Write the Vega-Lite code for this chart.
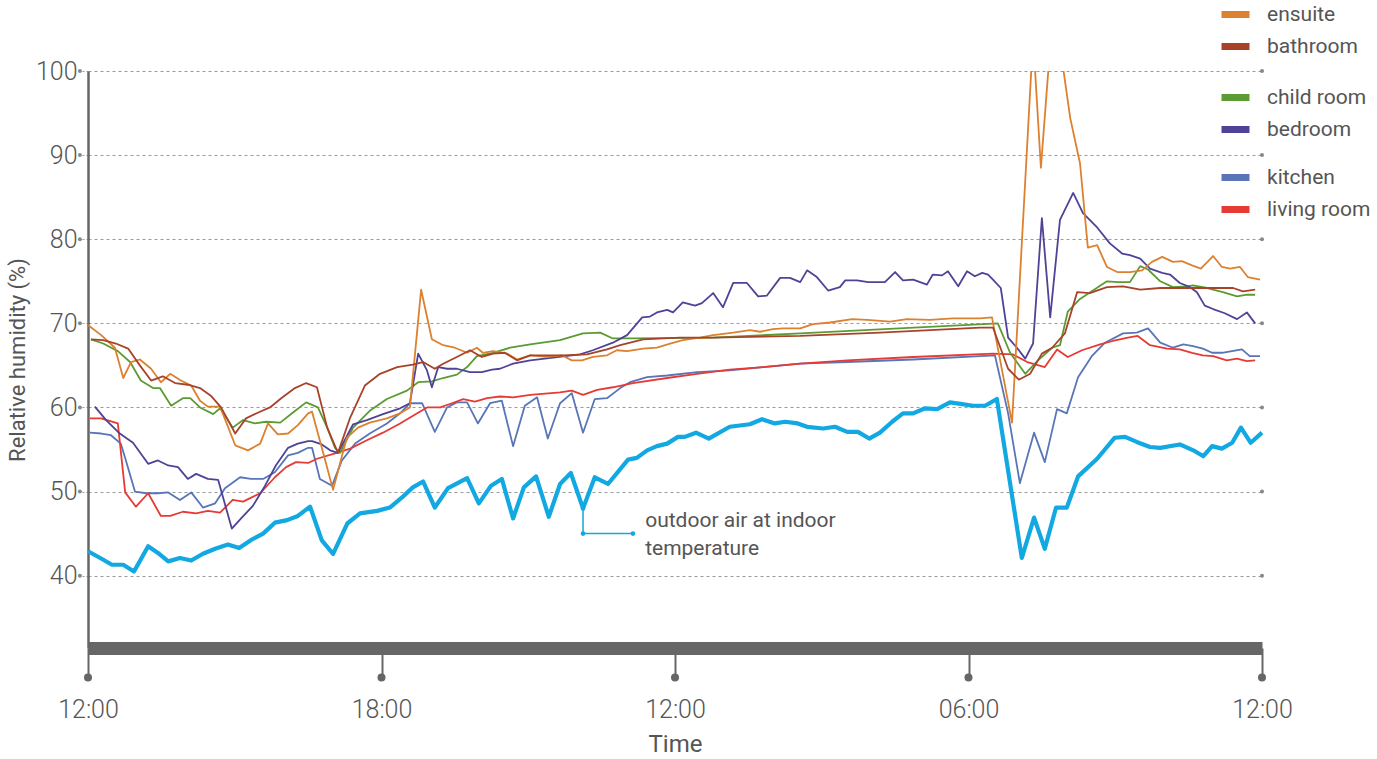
{
  "$schema": "https://vega.github.io/schema/vega-lite/v6.json",
  "width": 1174,
  "height": 577,
  "autosize": {"type": "none"},
  "padding": {"left": 88, "top": 71, "right": 115, "bottom": 111},
  "background": "white",
  "config": {"view": {"stroke": null}, "font": "Roboto"},
  "datasets": {
    "readings": [
      {"room":"ensuite","hour":0,"rh":69.8},{"room":"ensuite","hour":0.27,"rh":68.6},{"room":"ensuite","hour":0.55,"rh":67.1},{"room":"ensuite","hour":0.72,"rh":63.5},{"room":"ensuite","hour":0.88,"rh":65.4},{"room":"ensuite","hour":1.06,"rh":65.7},{"room":"ensuite","hour":1.29,"rh":64.6},{"room":"ensuite","hour":1.49,"rh":63.0},{"room":"ensuite","hour":1.68,"rh":64.0},{"room":"ensuite","hour":1.90,"rh":63.2},{"room":"ensuite","hour":2.11,"rh":62.6},{"room":"ensuite","hour":2.29,"rh":60.8},{"room":"ensuite","hour":2.45,"rh":60.1},{"room":"ensuite","hour":2.70,"rh":60.1},{"room":"ensuite","hour":3.01,"rh":55.5},{"room":"ensuite","hour":3.27,"rh":54.9},{"room":"ensuite","hour":3.52,"rh":55.7},{"room":"ensuite","hour":3.68,"rh":58.1},{"room":"ensuite","hour":3.88,"rh":56.8},{"room":"ensuite","hour":4.09,"rh":56.9},{"room":"ensuite","hour":4.29,"rh":57.9},{"room":"ensuite","hour":4.50,"rh":59.3},{"room":"ensuite","hour":4.58,"rh":59.5},{"room":"ensuite","hour":4.78,"rh":55.2},{"room":"ensuite","hour":5.01,"rh":50.2},{"room":"ensuite","hour":5.29,"rh":56.4},{"room":"ensuite","hour":5.52,"rh":57.6},{"room":"ensuite","hour":5.76,"rh":58.2},{"room":"ensuite","hour":6.11,"rh":58.7},{"room":"ensuite","hour":6.38,"rh":59.3},{"room":"ensuite","hour":6.58,"rh":60.0},{"room":"ensuite","hour":6.81,"rh":74.0},{"room":"ensuite","hour":7.03,"rh":68.1},{"room":"ensuite","hour":7.26,"rh":67.4},{"room":"ensuite","hour":7.50,"rh":67.1},{"room":"ensuite","hour":7.75,"rh":66.5},{"room":"ensuite","hour":7.95,"rh":67.1},{"room":"ensuite","hour":8.07,"rh":66.5},{"room":"ensuite","hour":8.28,"rh":66.7},{"room":"ensuite","hour":8.57,"rh":66.4},{"room":"ensuite","hour":8.77,"rh":65.7},{"room":"ensuite","hour":9.04,"rh":66.2},{"room":"ensuite","hour":9.38,"rh":66.0},{"room":"ensuite","hour":9.69,"rh":66.2},{"room":"ensuite","hour":9.89,"rh":65.6},{"room":"ensuite","hour":10.10,"rh":65.6},{"room":"ensuite","hour":10.32,"rh":66.0},{"room":"ensuite","hour":10.61,"rh":66.2},{"room":"ensuite","hour":10.81,"rh":66.8},{"room":"ensuite","hour":11.02,"rh":66.7},{"room":"ensuite","hour":11.35,"rh":67.0},{"room":"ensuite","hour":11.63,"rh":67.1},{"room":"ensuite","hour":11.90,"rh":67.6},{"room":"ensuite","hour":12.16,"rh":68.0},{"room":"ensuite","hour":12.51,"rh":68.3},{"room":"ensuite","hour":12.78,"rh":68.6},{"room":"ensuite","hour":13.19,"rh":68.9},{"room":"ensuite","hour":13.53,"rh":69.2},{"room":"ensuite","hour":13.74,"rh":69.0},{"room":"ensuite","hour":14.00,"rh":69.3},{"room":"ensuite","hour":14.21,"rh":69.4},{"room":"ensuite","hour":14.56,"rh":69.4},{"room":"ensuite","hour":14.82,"rh":69.9},{"room":"ensuite","hour":15.17,"rh":70.1},{"room":"ensuite","hour":15.62,"rh":70.5},{"room":"ensuite","hour":15.93,"rh":70.4},{"room":"ensuite","hour":16.40,"rh":70.2},{"room":"ensuite","hour":16.74,"rh":70.5},{"room":"ensuite","hour":17.21,"rh":70.4},{"room":"ensuite","hour":17.68,"rh":70.6},{"room":"ensuite","hour":18.24,"rh":70.6},{"room":"ensuite","hour":18.48,"rh":70.7},{"room":"ensuite","hour":18.89,"rh":58.2},{"room":"ensuite","hour":19.32,"rh":104.0},{"room":"ensuite","hour":19.48,"rh":88.5},{"room":"ensuite","hour":19.67,"rh":103.0},{"room":"ensuite","hour":19.87,"rh":103.0},{"room":"ensuite","hour":20.08,"rh":94.4},{"room":"ensuite","hour":20.28,"rh":89.0},{"room":"ensuite","hour":20.44,"rh":79.0},{"room":"ensuite","hour":20.63,"rh":79.3},{"room":"ensuite","hour":20.83,"rh":76.7},{"room":"ensuite","hour":21.04,"rh":76.1},{"room":"ensuite","hour":21.30,"rh":76.1},{"room":"ensuite","hour":21.55,"rh":76.3},{"room":"ensuite","hour":21.75,"rh":77.3},{"room":"ensuite","hour":21.96,"rh":77.9},{"room":"ensuite","hour":22.18,"rh":77.3},{"room":"ensuite","hour":22.36,"rh":77.4},{"room":"ensuite","hour":22.57,"rh":76.9},{"room":"ensuite","hour":22.75,"rh":76.5},{"room":"ensuite","hour":23.00,"rh":78.0},{"room":"ensuite","hour":23.18,"rh":76.7},{"room":"ensuite","hour":23.35,"rh":76.5},{"room":"ensuite","hour":23.55,"rh":76.7},{"room":"ensuite","hour":23.71,"rh":75.5},{"room":"ensuite","hour":23.96,"rh":75.2},

      {"room":"bathroom","hour":0.06,"rh":68.1},{"room":"bathroom","hour":0.31,"rh":68.0},{"room":"bathroom","hour":0.57,"rh":67.6},{"room":"bathroom","hour":0.82,"rh":67.0},{"room":"bathroom","hour":1.06,"rh":65.0},{"room":"bathroom","hour":1.29,"rh":63.2},{"room":"bathroom","hour":1.53,"rh":63.7},{"room":"bathroom","hour":1.78,"rh":62.9},{"room":"bathroom","hour":2.04,"rh":62.7},{"room":"bathroom","hour":2.29,"rh":62.3},{"room":"bathroom","hour":2.51,"rh":61.4},{"room":"bathroom","hour":2.72,"rh":60.0},{"room":"bathroom","hour":3.01,"rh":56.9},{"room":"bathroom","hour":3.23,"rh":58.7},{"room":"bathroom","hour":3.48,"rh":59.4},{"room":"bathroom","hour":3.72,"rh":60.0},{"room":"bathroom","hour":3.95,"rh":61.1},{"room":"bathroom","hour":4.23,"rh":62.3},{"room":"bathroom","hour":4.46,"rh":62.9},{"room":"bathroom","hour":4.68,"rh":62.4},{"room":"bathroom","hour":4.89,"rh":57.6},{"room":"bathroom","hour":5.11,"rh":54.6},{"room":"bathroom","hour":5.36,"rh":58.8},{"room":"bathroom","hour":5.66,"rh":62.6},{"room":"bathroom","hour":5.97,"rh":64.0},{"room":"bathroom","hour":6.32,"rh":64.8},{"room":"bathroom","hour":6.64,"rh":65.1},{"room":"bathroom","hour":6.85,"rh":65.4},{"room":"bathroom","hour":7.09,"rh":64.6},{"room":"bathroom","hour":7.26,"rh":65.2},{"room":"bathroom","hour":7.54,"rh":66.0},{"room":"bathroom","hour":7.81,"rh":66.8},{"room":"bathroom","hour":8.05,"rh":66.0},{"room":"bathroom","hour":8.28,"rh":66.4},{"room":"bathroom","hour":8.52,"rh":66.5},{"room":"bathroom","hour":8.77,"rh":65.6},{"room":"bathroom","hour":9.04,"rh":66.2},{"room":"bathroom","hour":9.71,"rh":66.2},{"room":"bathroom","hour":10.20,"rh":66.3},{"room":"bathroom","hour":10.61,"rh":66.9},{"room":"bathroom","hour":10.88,"rh":67.4},{"room":"bathroom","hour":11.35,"rh":68.1},{"room":"bathroom","hour":12.10,"rh":68.3},{"room":"bathroom","hour":12.78,"rh":68.3},{"room":"bathroom","hour":14.56,"rh":68.5},{"room":"bathroom","hour":16.19,"rh":68.9},{"room":"bathroom","hour":18.24,"rh":69.5},{"room":"bathroom","hour":18.50,"rh":69.5},{"room":"bathroom","hour":18.81,"rh":64.6},{"room":"bathroom","hour":19.03,"rh":63.3},{"room":"bathroom","hour":19.26,"rh":64.0},{"room":"bathroom","hour":19.50,"rh":66.4},{"room":"bathroom","hour":19.71,"rh":67.1},{"room":"bathroom","hour":19.97,"rh":68.8},{"room":"bathroom","hour":20.22,"rh":73.7},{"room":"bathroom","hour":20.48,"rh":73.6},{"room":"bathroom","hour":20.83,"rh":74.3},{"room":"bathroom","hour":21.16,"rh":74.4},{"room":"bathroom","hour":21.51,"rh":74.0},{"room":"bathroom","hour":21.92,"rh":74.2},{"room":"bathroom","hour":22.59,"rh":74.2},{"room":"bathroom","hour":23.00,"rh":74.2},{"room":"bathroom","hour":23.41,"rh":74.2},{"room":"bathroom","hour":23.61,"rh":73.8},{"room":"bathroom","hour":23.86,"rh":74.0},

      {"room":"child room","hour":0.06,"rh":68.1},{"room":"child room","hour":0.31,"rh":67.6},{"room":"child room","hour":0.61,"rh":66.7},{"room":"child room","hour":0.86,"rh":65.4},{"room":"child room","hour":1.08,"rh":63.2},{"room":"child room","hour":1.33,"rh":62.3},{"room":"child room","hour":1.47,"rh":62.3},{"room":"child room","hour":1.70,"rh":60.2},{"room":"child room","hour":1.94,"rh":61.1},{"room":"child room","hour":2.09,"rh":61.1},{"room":"child room","hour":2.29,"rh":60.0},{"room":"child room","hour":2.56,"rh":59.2},{"room":"child room","hour":2.70,"rh":59.9},{"room":"child room","hour":2.96,"rh":57.6},{"room":"child room","hour":3.17,"rh":58.5},{"room":"child room","hour":3.41,"rh":58.1},{"room":"child room","hour":3.64,"rh":58.3},{"room":"child room","hour":3.93,"rh":58.2},{"room":"child room","hour":4.19,"rh":59.4},{"room":"child room","hour":4.46,"rh":60.6},{"room":"child room","hour":4.70,"rh":60.0},{"room":"child room","hour":4.89,"rh":57.6},{"room":"child room","hour":5.05,"rh":55.2},{"room":"child room","hour":5.15,"rh":54.6},{"room":"child room","hour":5.42,"rh":57.6},{"room":"child room","hour":5.76,"rh":59.6},{"room":"child room","hour":6.11,"rh":61.0},{"room":"child room","hour":6.52,"rh":62.0},{"room":"child room","hour":6.75,"rh":63.0},{"room":"child room","hour":7.03,"rh":63.1},{"room":"child room","hour":7.26,"rh":63.5},{"room":"child room","hour":7.54,"rh":63.9},{"room":"child room","hour":7.75,"rh":64.8},{"room":"child room","hour":7.95,"rh":66.1},{"room":"child room","hour":8.28,"rh":66.5},{"room":"child room","hour":8.63,"rh":67.1},{"room":"child room","hour":9.04,"rh":67.5},{"room":"child room","hour":9.65,"rh":68.0},{"room":"child room","hour":10.12,"rh":68.8},{"room":"child room","hour":10.47,"rh":68.9},{"room":"child room","hour":10.73,"rh":68.2},{"room":"child room","hour":11.14,"rh":68.2},{"room":"child room","hour":12.78,"rh":68.3},{"room":"child room","hour":14.56,"rh":68.8},{"room":"child room","hour":18.60,"rh":70.0},{"room":"child room","hour":18.85,"rh":66.5},{"room":"child room","hour":19.16,"rh":64.0},{"room":"child room","hour":19.42,"rh":65.6},{"room":"child room","hour":19.71,"rh":67.1},{"room":"child room","hour":19.87,"rh":67.4},{"room":"child room","hour":20.03,"rh":71.4},{"room":"child room","hour":20.28,"rh":72.9},{"room":"child room","hour":20.83,"rh":75.0},{"room":"child room","hour":21.06,"rh":74.9},{"room":"child room","hour":21.30,"rh":74.9},{"room":"child room","hour":21.51,"rh":76.8},{"room":"child room","hour":21.67,"rh":76.4},{"room":"child room","hour":21.92,"rh":75.0},{"room":"child room","hour":22.18,"rh":74.3},{"room":"child room","hour":22.47,"rh":74.4},{"room":"child room","hour":22.59,"rh":74.5},{"room":"child room","hour":22.88,"rh":74.2},{"room":"child room","hour":23.20,"rh":73.7},{"room":"child room","hour":23.49,"rh":73.2},{"room":"child room","hour":23.69,"rh":73.4},{"room":"child room","hour":23.86,"rh":73.4},

      {"room":"bedroom","hour":0.14,"rh":60.1},{"room":"bedroom","hour":0.37,"rh":58.5},{"room":"bedroom","hour":0.65,"rh":56.9},{"room":"bedroom","hour":0.92,"rh":55.8},{"room":"bedroom","hour":1.23,"rh":53.3},{"room":"bedroom","hour":1.43,"rh":53.7},{"room":"bedroom","hour":1.64,"rh":53.1},{"room":"bedroom","hour":1.84,"rh":52.9},{"room":"bedroom","hour":2.04,"rh":51.5},{"room":"bedroom","hour":2.21,"rh":52.1},{"room":"bedroom","hour":2.45,"rh":51.5},{"room":"bedroom","hour":2.66,"rh":51.4},{"room":"bedroom","hour":2.94,"rh":45.6},{"room":"bedroom","hour":3.13,"rh":46.8},{"room":"bedroom","hour":3.37,"rh":48.3},{"room":"bedroom","hour":3.62,"rh":50.7},{"room":"bedroom","hour":3.84,"rh":53.1},{"room":"bedroom","hour":4.09,"rh":55.2},{"room":"bedroom","hour":4.29,"rh":55.7},{"room":"bedroom","hour":4.50,"rh":56.0},{"room":"bedroom","hour":4.58,"rh":56.0},{"room":"bedroom","hour":4.78,"rh":55.6},{"room":"bedroom","hour":4.95,"rh":54.9},{"room":"bedroom","hour":5.11,"rh":54.6},{"room":"bedroom","hour":5.42,"rh":58.0},{"room":"bedroom","hour":5.70,"rh":58.5},{"room":"bedroom","hour":6.03,"rh":59.2},{"room":"bedroom","hour":6.38,"rh":59.9},{"room":"bedroom","hour":6.58,"rh":60.5},{"room":"bedroom","hour":6.75,"rh":66.4},{"room":"bedroom","hour":6.93,"rh":64.4},{"room":"bedroom","hour":7.03,"rh":62.4},{"room":"bedroom","hour":7.16,"rh":64.8},{"room":"bedroom","hour":7.34,"rh":64.6},{"room":"bedroom","hour":7.54,"rh":64.6},{"room":"bedroom","hour":7.81,"rh":64.2},{"room":"bedroom","hour":8.05,"rh":64.2},{"room":"bedroom","hour":8.26,"rh":64.5},{"room":"bedroom","hour":8.42,"rh":64.6},{"room":"bedroom","hour":8.69,"rh":65.2},{"room":"bedroom","hour":9.04,"rh":65.6},{"room":"bedroom","hour":10.06,"rh":66.3},{"room":"bedroom","hour":10.32,"rh":66.8},{"room":"bedroom","hour":10.73,"rh":67.7},{"room":"bedroom","hour":11.02,"rh":68.6},{"room":"bedroom","hour":11.33,"rh":70.7},{"room":"bedroom","hour":11.49,"rh":70.8},{"room":"bedroom","hour":11.63,"rh":71.3},{"room":"bedroom","hour":11.84,"rh":71.6},{"room":"bedroom","hour":11.96,"rh":71.3},{"room":"bedroom","hour":12.16,"rh":72.5},{"room":"bedroom","hour":12.41,"rh":72.1},{"room":"bedroom","hour":12.55,"rh":72.4},{"room":"bedroom","hour":12.78,"rh":73.6},{"room":"bedroom","hour":12.98,"rh":71.9},{"room":"bedroom","hour":13.19,"rh":74.8},{"room":"bedroom","hour":13.47,"rh":74.8},{"room":"bedroom","hour":13.70,"rh":73.2},{"room":"bedroom","hour":13.88,"rh":73.3},{"room":"bedroom","hour":14.15,"rh":75.4},{"room":"bedroom","hour":14.35,"rh":75.4},{"room":"bedroom","hour":14.56,"rh":74.9},{"room":"bedroom","hour":14.70,"rh":76.3},{"room":"bedroom","hour":14.90,"rh":75.5},{"room":"bedroom","hour":15.13,"rh":73.9},{"room":"bedroom","hour":15.37,"rh":74.3},{"room":"bedroom","hour":15.48,"rh":75.1},{"room":"bedroom","hour":15.72,"rh":75.1},{"room":"bedroom","hour":15.95,"rh":74.9},{"room":"bedroom","hour":16.29,"rh":74.9},{"room":"bedroom","hour":16.50,"rh":76.1},{"room":"bedroom","hour":16.66,"rh":75.1},{"room":"bedroom","hour":16.87,"rh":75.2},{"room":"bedroom","hour":17.15,"rh":74.6},{"room":"bedroom","hour":17.27,"rh":75.8},{"room":"bedroom","hour":17.46,"rh":75.7},{"room":"bedroom","hour":17.58,"rh":76.2},{"room":"bedroom","hour":17.79,"rh":74.4},{"room":"bedroom","hour":17.97,"rh":76.2},{"room":"bedroom","hour":18.13,"rh":75.6},{"room":"bedroom","hour":18.28,"rh":76.0},{"room":"bedroom","hour":18.40,"rh":75.8},{"room":"bedroom","hour":18.50,"rh":75.2},{"room":"bedroom","hour":18.66,"rh":74.2},{"room":"bedroom","hour":18.81,"rh":68.3},{"room":"bedroom","hour":18.99,"rh":67.1},{"room":"bedroom","hour":19.16,"rh":65.8},{"room":"bedroom","hour":19.32,"rh":67.6},{"room":"bedroom","hour":19.50,"rh":82.5},{"room":"bedroom","hour":19.67,"rh":70.7},{"room":"bedroom","hour":19.87,"rh":82.3},{"room":"bedroom","hour":20.14,"rh":85.5},{"room":"bedroom","hour":20.34,"rh":83.1},{"room":"bedroom","hour":20.63,"rh":81.4},{"room":"bedroom","hour":20.89,"rh":79.5},{"room":"bedroom","hour":21.14,"rh":78.3},{"room":"bedroom","hour":21.30,"rh":78.1},{"room":"bedroom","hour":21.51,"rh":77.7},{"room":"bedroom","hour":21.71,"rh":76.5},{"room":"bedroom","hour":21.96,"rh":76.0},{"room":"bedroom","hour":22.12,"rh":75.8},{"room":"bedroom","hour":22.32,"rh":74.8},{"room":"bedroom","hour":22.53,"rh":74.3},{"room":"bedroom","hour":22.67,"rh":73.7},{"room":"bedroom","hour":22.83,"rh":72.1},{"room":"bedroom","hour":23.00,"rh":71.7},{"room":"bedroom","hour":23.24,"rh":71.2},{"room":"bedroom","hour":23.49,"rh":70.5},{"room":"bedroom","hour":23.69,"rh":71.3},{"room":"bedroom","hour":23.86,"rh":70.0},

      {"room":"kitchen","hour":0.04,"rh":57.0},{"room":"kitchen","hour":0.27,"rh":56.9},{"room":"kitchen","hour":0.47,"rh":56.7},{"room":"kitchen","hour":0.67,"rh":55.7},{"room":"kitchen","hour":0.76,"rh":54.0},{"room":"kitchen","hour":0.96,"rh":50.0},{"room":"kitchen","hour":1.19,"rh":49.8},{"room":"kitchen","hour":1.43,"rh":49.8},{"room":"kitchen","hour":1.64,"rh":49.9},{"room":"kitchen","hour":1.88,"rh":49.0},{"room":"kitchen","hour":2.11,"rh":49.9},{"room":"kitchen","hour":2.35,"rh":48.1},{"room":"kitchen","hour":2.60,"rh":48.6},{"room":"kitchen","hour":2.80,"rh":50.4},{"room":"kitchen","hour":3.11,"rh":51.7},{"room":"kitchen","hour":3.33,"rh":51.5},{"room":"kitchen","hour":3.58,"rh":51.5},{"room":"kitchen","hour":3.82,"rh":52.3},{"room":"kitchen","hour":4.09,"rh":54.3},{"room":"kitchen","hour":4.29,"rh":54.6},{"room":"kitchen","hour":4.50,"rh":55.2},{"room":"kitchen","hour":4.58,"rh":55.2},{"room":"kitchen","hour":4.74,"rh":51.5},{"room":"kitchen","hour":4.99,"rh":50.7},{"room":"kitchen","hour":5.19,"rh":53.7},{"room":"kitchen","hour":5.46,"rh":55.7},{"room":"kitchen","hour":5.76,"rh":56.9},{"room":"kitchen","hour":6.11,"rh":58.1},{"room":"kitchen","hour":6.38,"rh":59.3},{"room":"kitchen","hour":6.58,"rh":60.5},{"room":"kitchen","hour":6.83,"rh":60.5},{"room":"kitchen","hour":7.09,"rh":57.1},{"room":"kitchen","hour":7.34,"rh":60.0},{"room":"kitchen","hour":7.54,"rh":60.6},{"room":"kitchen","hour":7.75,"rh":60.6},{"room":"kitchen","hour":7.97,"rh":58.1},{"room":"kitchen","hour":8.22,"rh":60.5},{"room":"kitchen","hour":8.46,"rh":60.8},{"room":"kitchen","hour":8.69,"rh":55.4},{"room":"kitchen","hour":8.93,"rh":60.2},{"room":"kitchen","hour":9.18,"rh":61.2},{"room":"kitchen","hour":9.40,"rh":56.3},{"room":"kitchen","hour":9.65,"rh":60.5},{"room":"kitchen","hour":9.89,"rh":61.7},{"room":"kitchen","hour":10.12,"rh":57.0},{"room":"kitchen","hour":10.36,"rh":61.0},{"room":"kitchen","hour":10.61,"rh":61.1},{"room":"kitchen","hour":10.88,"rh":62.3},{"room":"kitchen","hour":11.08,"rh":63.0},{"room":"kitchen","hour":11.43,"rh":63.6},{"room":"kitchen","hour":11.84,"rh":63.8},{"room":"kitchen","hour":12.45,"rh":64.2},{"room":"kitchen","hour":13.12,"rh":64.4},{"room":"kitchen","hour":13.80,"rh":64.8},{"room":"kitchen","hour":14.56,"rh":65.2},{"room":"kitchen","hour":15.52,"rh":65.4},{"room":"kitchen","hour":16.87,"rh":65.7},{"room":"kitchen","hour":18.54,"rh":66.2},{"room":"kitchen","hour":18.81,"rh":59.3},{"room":"kitchen","hour":19.05,"rh":51.0},{"room":"kitchen","hour":19.34,"rh":57.0},{"room":"kitchen","hour":19.56,"rh":53.5},{"room":"kitchen","hour":19.81,"rh":59.8},{"room":"kitchen","hour":20.01,"rh":59.3},{"room":"kitchen","hour":20.24,"rh":63.6},{"room":"kitchen","hour":20.52,"rh":66.1},{"room":"kitchen","hour":20.79,"rh":67.7},{"room":"kitchen","hour":21.16,"rh":68.8},{"room":"kitchen","hour":21.44,"rh":68.9},{"room":"kitchen","hour":21.67,"rh":69.4},{"room":"kitchen","hour":21.92,"rh":67.7},{"room":"kitchen","hour":22.18,"rh":67.1},{"room":"kitchen","hour":22.39,"rh":67.5},{"room":"kitchen","hour":22.59,"rh":67.3},{"room":"kitchen","hour":22.79,"rh":67.0},{"room":"kitchen","hour":22.98,"rh":66.5},{"room":"kitchen","hour":23.18,"rh":66.5},{"room":"kitchen","hour":23.59,"rh":66.9},{"room":"kitchen","hour":23.75,"rh":66.1},{"room":"kitchen","hour":23.96,"rh":66.1},

      {"room":"living room","hour":0.04,"rh":58.7},{"room":"living room","hour":0.27,"rh":58.7},{"room":"living room","hour":0.61,"rh":58.1},{"room":"living room","hour":0.76,"rh":49.9},{"room":"living room","hour":0.98,"rh":48.2},{"room":"living room","hour":1.23,"rh":49.8},{"room":"living room","hour":1.49,"rh":47.1},{"room":"living room","hour":1.68,"rh":47.1},{"room":"living room","hour":1.94,"rh":47.6},{"room":"living room","hour":2.21,"rh":47.4},{"room":"living room","hour":2.45,"rh":47.7},{"room":"living room","hour":2.70,"rh":47.5},{"room":"living room","hour":2.96,"rh":49.0},{"room":"living room","hour":3.17,"rh":48.8},{"room":"living room","hour":3.52,"rh":49.8},{"room":"living room","hour":3.82,"rh":51.7},{"room":"living room","hour":4.05,"rh":52.9},{"room":"living room","hour":4.25,"rh":53.5},{"room":"living room","hour":4.50,"rh":53.4},{"room":"living room","hour":4.68,"rh":53.9},{"room":"living room","hour":5.09,"rh":54.6},{"room":"living room","hour":5.36,"rh":55.1},{"room":"living room","hour":5.70,"rh":56.1},{"room":"living room","hour":6.03,"rh":57.0},{"room":"living room","hour":6.38,"rh":58.1},{"room":"living room","hour":6.73,"rh":59.3},{"room":"living room","hour":6.93,"rh":60.0},{"room":"living room","hour":7.20,"rh":60.0},{"room":"living room","hour":7.44,"rh":60.5},{"room":"living room","hour":7.67,"rh":61.0},{"room":"living room","hour":7.91,"rh":60.7},{"room":"living room","hour":8.16,"rh":61.1},{"room":"living room","hour":8.42,"rh":61.3},{"room":"living room","hour":8.69,"rh":61.2},{"room":"living room","hour":9.04,"rh":61.5},{"room":"living room","hour":9.65,"rh":61.8},{"room":"living room","hour":9.89,"rh":62.0},{"room":"living room","hour":10.12,"rh":61.5},{"room":"living room","hour":10.41,"rh":62.1},{"room":"living room","hour":10.73,"rh":62.4},{"room":"living room","hour":11.14,"rh":62.9},{"room":"living room","hour":11.84,"rh":63.5},{"room":"living room","hour":12.45,"rh":64.0},{"room":"living room","hour":13.12,"rh":64.5},{"room":"living room","hour":13.80,"rh":64.8},{"room":"living room","hour":14.56,"rh":65.2},{"room":"living room","hour":15.52,"rh":65.6},{"room":"living room","hour":16.87,"rh":66.0},{"room":"living room","hour":18.50,"rh":66.4},{"room":"living room","hour":18.91,"rh":66.3},{"room":"living room","hour":19.20,"rh":65.4},{"room":"living room","hour":19.56,"rh":64.8},{"room":"living room","hour":19.81,"rh":66.9},{"room":"living room","hour":20.03,"rh":66.0},{"room":"living room","hour":20.32,"rh":66.8},{"room":"living room","hour":20.69,"rh":67.5},{"room":"living room","hour":20.95,"rh":67.9},{"room":"living room","hour":21.26,"rh":68.3},{"room":"living room","hour":21.46,"rh":68.5},{"room":"living room","hour":21.71,"rh":67.4},{"room":"living room","hour":22.06,"rh":67.0},{"room":"living room","hour":22.32,"rh":66.9},{"room":"living room","hour":22.57,"rh":66.5},{"room":"living room","hour":22.79,"rh":66.2},{"room":"living room","hour":23.00,"rh":66.1},{"room":"living room","hour":23.28,"rh":65.6},{"room":"living room","hour":23.49,"rh":65.8},{"room":"living room","hour":23.69,"rh":65.5},{"room":"living room","hour":23.86,"rh":65.6},

      {"room":"outdoor","hour":0,"rh":42.9},{"room":"outdoor","hour":0.25,"rh":42.1},{"room":"outdoor","hour":0.49,"rh":41.3},{"room":"outdoor","hour":0.72,"rh":41.3},{"room":"outdoor","hour":0.94,"rh":40.5},{"room":"outdoor","hour":1.23,"rh":43.5},{"room":"outdoor","hour":1.43,"rh":42.7},{"room":"outdoor","hour":1.64,"rh":41.7},{"room":"outdoor","hour":1.88,"rh":42.1},{"room":"outdoor","hour":2.11,"rh":41.8},{"room":"outdoor","hour":2.35,"rh":42.6},{"room":"outdoor","hour":2.60,"rh":43.2},{"room":"outdoor","hour":2.86,"rh":43.7},{"room":"outdoor","hour":3.09,"rh":43.3},{"room":"outdoor","hour":3.35,"rh":44.3},{"room":"outdoor","hour":3.58,"rh":45.0},{"room":"outdoor","hour":3.82,"rh":46.3},{"room":"outdoor","hour":4.07,"rh":46.6},{"room":"outdoor","hour":4.29,"rh":47.1},{"room":"outdoor","hour":4.54,"rh":48.2},{"room":"outdoor","hour":4.78,"rh":44.2},{"room":"outdoor","hour":5.01,"rh":42.6},{"room":"outdoor","hour":5.30,"rh":46.2},{"room":"outdoor","hour":5.56,"rh":47.4},{"room":"outdoor","hour":5.91,"rh":47.7},{"room":"outdoor","hour":6.17,"rh":48.1},{"room":"outdoor","hour":6.42,"rh":49.3},{"room":"outdoor","hour":6.64,"rh":50.5},{"room":"outdoor","hour":6.85,"rh":51.2},{"room":"outdoor","hour":7.09,"rh":48.1},{"room":"outdoor","hour":7.36,"rh":50.4},{"room":"outdoor","hour":7.75,"rh":51.6},{"room":"outdoor","hour":7.99,"rh":48.6},{"room":"outdoor","hour":8.24,"rh":50.7},{"room":"outdoor","hour":8.46,"rh":51.5},{"room":"outdoor","hour":8.69,"rh":46.8},{"room":"outdoor","hour":8.91,"rh":50.5},{"room":"outdoor","hour":9.16,"rh":51.8},{"room":"outdoor","hour":9.42,"rh":47.0},{"room":"outdoor","hour":9.65,"rh":50.9},{"room":"outdoor","hour":9.87,"rh":52.2},{"room":"outdoor","hour":10.12,"rh":48.0},{"room":"outdoor","hour":10.36,"rh":51.7},{"room":"outdoor","hour":10.63,"rh":50.9},{"room":"outdoor","hour":11.04,"rh":53.8},{"room":"outdoor","hour":11.22,"rh":54.0},{"room":"outdoor","hour":11.43,"rh":54.9},{"room":"outdoor","hour":11.63,"rh":55.4},{"room":"outdoor","hour":11.84,"rh":55.7},{"room":"outdoor","hour":12.06,"rh":56.5},{"room":"outdoor","hour":12.20,"rh":56.5},{"room":"outdoor","hour":12.43,"rh":57.0},{"room":"outdoor","hour":12.69,"rh":56.3},{"room":"outdoor","hour":13.12,"rh":57.7},{"room":"outdoor","hour":13.53,"rh":58.0},{"room":"outdoor","hour":13.78,"rh":58.6},{"room":"outdoor","hour":14.04,"rh":58.1},{"room":"outdoor","hour":14.25,"rh":58.3},{"room":"outdoor","hour":14.51,"rh":58.1},{"room":"outdoor","hour":14.70,"rh":57.7},{"room":"outdoor","hour":15.03,"rh":57.5},{"room":"outdoor","hour":15.27,"rh":57.7},{"room":"outdoor","hour":15.52,"rh":57.1},{"room":"outdoor","hour":15.74,"rh":57.1},{"room":"outdoor","hour":15.97,"rh":56.3},{"room":"outdoor","hour":16.19,"rh":57.0},{"room":"outdoor","hour":16.44,"rh":58.3},{"room":"outdoor","hour":16.66,"rh":59.3},{"room":"outdoor","hour":16.87,"rh":59.3},{"room":"outdoor","hour":17.11,"rh":59.9},{"room":"outdoor","hour":17.36,"rh":59.8},{"room":"outdoor","hour":17.62,"rh":60.6},{"room":"outdoor","hour":17.87,"rh":60.4},{"room":"outdoor","hour":18.09,"rh":60.2},{"room":"outdoor","hour":18.34,"rh":60.2},{"room":"outdoor","hour":18.58,"rh":61.0},{"room":"outdoor","hour":19.09,"rh":42.1},{"room":"outdoor","hour":19.34,"rh":46.9},{"room":"outdoor","hour":19.56,"rh":43.2},{"room":"outdoor","hour":19.79,"rh":48.1},{"room":"outdoor","hour":20.01,"rh":48.1},{"room":"outdoor","hour":20.24,"rh":51.8},{"room":"outdoor","hour":20.63,"rh":53.9},{"room":"outdoor","hour":20.99,"rh":56.4},{"room":"outdoor","hour":21.20,"rh":56.5},{"room":"outdoor","hour":21.44,"rh":55.9},{"room":"outdoor","hour":21.71,"rh":55.3},{"room":"outdoor","hour":21.92,"rh":55.2},{"room":"outdoor","hour":22.32,"rh":55.6},{"room":"outdoor","hour":22.63,"rh":54.8},{"room":"outdoor","hour":22.80,"rh":54.2},{"room":"outdoor","hour":22.98,"rh":55.4},{"room":"outdoor","hour":23.18,"rh":55.1},{"room":"outdoor","hour":23.39,"rh":55.8},{"room":"outdoor","hour":23.57,"rh":57.6},{"room":"outdoor","hour":23.77,"rh":55.8},{"room":"outdoor","hour":24.00,"rh":57.0}
    ]
  },
  "data": {"name": "readings"},
  "layer": [
    {
      "transform": [{"filter": "datum.room == 'kitchen' || datum.room == 'living room'"}],
      "mark": {"type": "line", "strokeWidth": 1.8, "strokeJoin": "round"},
      "encoding": {
        "x": {
          "field": "hour",
          "type": "quantitative",
          "title": "Time",
          "scale": {"domain": [0, 24], "nice": false, "zero": false},
          "axis": {
            "values": [0, 6, 12, 18, 24],
            "labelExpr": "datum.value == 6 ? '18:00' : datum.value == 18 ? '06:00' : '12:00'",
            "grid": false,
            "domainColor": "#666666",
            "domainWidth": 13,
            "domainCap": "butt",
            "tickColor": "#666666",
            "tickWidth": 2,
            "tickSize": 29,
            "labelPadding": 20,
            "labelFlush": false,
            "labelAlign": "center",
            "labelFont": "Roboto",
            "labelFontWeight": 300,
            "labelFontSize": 25,
            "labelColor": "#555555",
            "titleFont": "Roboto",
            "titleFontSize": 24,
            "titleFontWeight": "normal",
            "titleColor": "#555555",
            "titlePadding": 10
          }
        },
        "y": {
          "field": "rh",
          "type": "quantitative",
          "title": "Relative humidity (%)",
          "scale": {"domain": [31.4, 100], "nice": false, "zero": false},
          "axis": {
            "values": [40, 50, 60, 70, 80, 90, 100],
            "grid": true,
            "gridColor": "#9a9a9a",
            "gridDash": [3, 3],
            "gridWidth": 1,
            "domainColor": "#666666",
            "domainWidth": 2.5,
            "tickColor": "#9a9a9a",
            "tickDash": [2, 2],
            "tickSize": 8,
            "labelPadding": 3,
            "labelFont": "Roboto",
            "labelFontWeight": 300,
            "labelFontSize": 25,
            "labelColor": "#555555",
            "titleFont": "Roboto",
            "titleFontSize": 22,
            "titleFontWeight": "normal",
            "titleColor": "#555555",
            "titlePadding": 6
          }
        },
        "color": {
          "field": "room",
          "type": "nominal",
          "scale": {"domain": ["kitchen", "living room"], "range": ["#5875B8", "#E63A35"]},
          "legend": {"orient": "none", "legendX": 1130, "legendY": 89, "title": null, "direction": "vertical", "padding": 0, "symbolType": "stroke", "symbolStrokeWidth": 7, "symbolSize": 784, "labelFont": "Roboto", "labelFontSize": 21, "labelColor": "#555555", "labelOffset": 14, "rowPadding": 0}
        }
      }
    },
    {
      "transform": [{"filter": "datum.room == 'child room' || datum.room == 'bedroom'"}],
      "mark": {"type": "line", "strokeWidth": 1.8, "strokeJoin": "round"},
      "encoding": {
        "x": {"field": "hour", "type": "quantitative", "title": "Time"},
        "y": {"field": "rh", "type": "quantitative", "title": "Relative humidity (%)"},
        "color": {
          "field": "room",
          "type": "nominal",
          "scale": {"domain": ["child room", "bedroom"], "range": ["#5C9B33", "#4E4396"]},
          "legend": {"orient": "none", "legendX": 1130, "legendY": 9, "title": null, "direction": "vertical", "padding": 0, "symbolType": "stroke", "symbolStrokeWidth": 7, "symbolSize": 784, "labelFont": "Roboto", "labelFontSize": 21, "labelColor": "#555555", "labelOffset": 14, "rowPadding": 0}
        }
      }
    },
    {
      "transform": [{"filter": "datum.room == 'ensuite' || datum.room == 'bathroom'"}],
      "mark": {"type": "line", "strokeWidth": 1.8, "strokeJoin": "round", "clip": true},
      "encoding": {
        "x": {"field": "hour", "type": "quantitative", "title": "Time"},
        "y": {"field": "rh", "type": "quantitative", "title": "Relative humidity (%)"},
        "color": {
          "field": "room",
          "type": "nominal",
          "scale": {"domain": ["ensuite", "bathroom"], "range": ["#DC8130", "#A8432A"]},
          "legend": {"orient": "none", "legendX": 1130, "legendY": -74, "title": null, "direction": "vertical", "padding": 0, "symbolType": "stroke", "symbolStrokeWidth": 7, "symbolSize": 784, "labelFont": "Roboto", "labelFontSize": 21, "labelColor": "#555555", "labelOffset": 14, "rowPadding": 0}
        }
      }
    },
    {
      "transform": [{"filter": "datum.room == 'outdoor'"}],
      "mark": {"type": "line", "strokeWidth": 4.2, "strokeJoin": "round", "color": "#12A8E2"},
      "encoding": {
        "x": {"field": "hour", "type": "quantitative", "title": "Time"},
        "y": {"field": "rh", "type": "quantitative", "title": "Relative humidity (%)"}
      }
    },
    {
      "data": {"values": [
        {"hour": 10.12, "rh": 48.0, "step": 1},
        {"hour": 10.12, "rh": 45.0, "step": 2},
        {"hour": 11.14, "rh": 45.0, "step": 3}
      ]},
      "mark": {"type": "line", "color": "#12A8E2", "strokeWidth": 1.5, "point": {"filled": true, "size": 22, "color": "#12A8E2"}},
      "encoding": {
        "x": {"field": "hour", "type": "quantitative", "title": "Time"},
        "y": {"field": "rh", "type": "quantitative", "title": "Relative humidity (%)"},
        "order": {"field": "step", "type": "quantitative"}
      }
    },
    {
      "data": {"values": [
        {"hour": 11.39, "rh": 47.8, "note": "outdoor air at indoor\ntemperature"}
      ]},
      "mark": {"type": "text", "align": "left", "baseline": "top", "lineBreak": "\n", "lineHeight": 28, "font": "Roboto", "fontSize": 21, "color": "#555555"},
      "encoding": {
        "x": {"field": "hour", "type": "quantitative", "title": "Time"},
        "y": {"field": "rh", "type": "quantitative", "title": "Relative humidity (%)"},
        "text": {"field": "note", "type": "nominal"}
      }
    },
    {
      "data": {"values": [{"hour": 0}, {"hour": 6}, {"hour": 12}, {"hour": 18}, {"hour": 24}]},
      "mark": {"type": "circle", "size": 64, "color": "#666666", "opacity": 1},
      "encoding": {
        "x": {"field": "hour", "type": "quantitative", "title": "Time"},
        "y": {"datum": 27.9}
      }
    },
    {
      "data": {"values": [{"rh": 40}, {"rh": 50}, {"rh": 60}, {"rh": 70}, {"rh": 80}, {"rh": 90}, {"rh": 100}]},
      "mark": {"type": "circle", "size": 16, "color": "#888888", "opacity": 1},
      "encoding": {
        "x": {"datum": 24},
        "y": {"field": "rh", "type": "quantitative", "title": "Relative humidity (%)"}
      }
    },
    {
      "data": {"values": [{"rh": 40}, {"rh": 50}, {"rh": 60}, {"rh": 70}, {"rh": 80}, {"rh": 90}, {"rh": 100}]},
      "mark": {"type": "circle", "size": 16, "color": "#888888", "opacity": 1},
      "encoding": {
        "x": {"datum": -0.165},
        "y": {"field": "rh", "type": "quantitative", "title": "Relative humidity (%)"}
      }
    }
  ],
  "resolve": {"scale": {"color": "independent"}, "legend": {"color": "independent"}}
}
